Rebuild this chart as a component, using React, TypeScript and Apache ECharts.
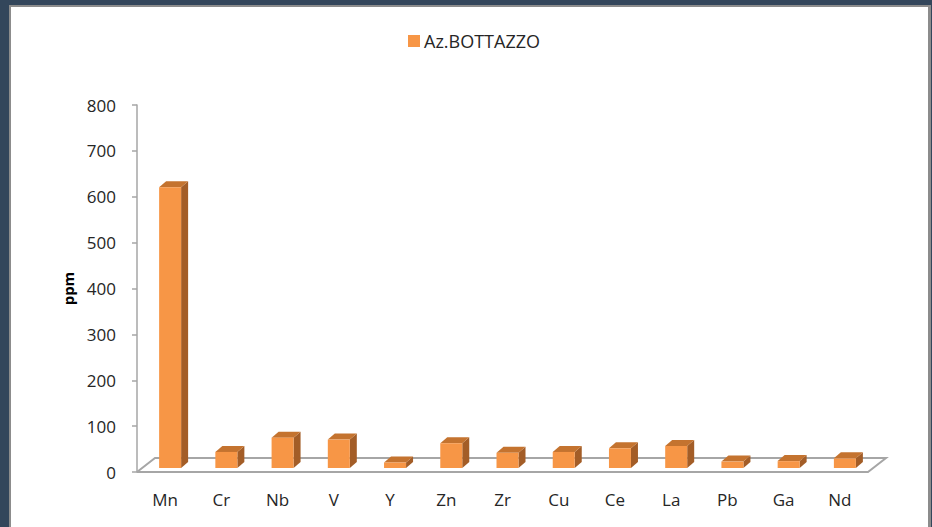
import React, { useEffect, useRef } from "react";
import * as echarts from "echarts";

const categories = ["Mn", "Cr", "Nb", "V", "Y", "Zn", "Zr", "Cu", "Ce", "La", "Pb", "Ga", "Nd"];
const values = [612, 35, 66, 62, 12, 54, 33, 35, 43, 48, 14, 15, 21];
const seriesName = "Az.BOTTAZZO";
const yMin = 0;
const yMax = 800;
const yInterval = 100;

const FRONT = "#F79646";
const TOP = "#C4732F";
const SIDE = "#A35D27";
const FLOOR = "#A6A6A6";

export default function App() {
  const ref = useRef<HTMLDivElement>(null);
  useEffect(() => {
    if (!ref.current) return;
    const chart = echarts.init(ref.current, null, { renderer: "svg" });
    const font = "'Open Sans', sans-serif";
    chart.setOption({
      animation: false,
      backgroundColor: "#33465B",
      textStyle: { fontFamily: font },
      graphic: [
        { type: "rect", z: -10, shape: { x: 9, y: 5, width: 922, height: 530 }, style: { fill: "#8C8C8C" } },
        { type: "rect", z: -9, shape: { x: 11, y: 7, width: 917, height: 530 }, style: { fill: "#FFFFFF" } },
      ],
      legend: {
        left: 403,
        top: 27,
        itemWidth: 12,
        itemHeight: 12,
        itemGap: 10,
        icon: "rect",
        textStyle: { fontSize: 18, color: "#262626", fontFamily: font, padding: [0, 0, 0, -1] },
        data: [seriesName],
      },
      grid: { left: 137, right: 64, top: 105, bottom: 55 },
      xAxis: {
        type: "category",
        data: categories,
        axisLine: { show: false },
        axisTick: { show: false },
        axisLabel: { fontSize: 17, color: "#262626", margin: 19, fontFamily: font },
      },
      yAxis: {
        type: "value",
        min: yMin,
        max: yMax,
        interval: yInterval,
        name: "ppm",
        nameLocation: "middle",
        nameGap: 57,
        nameTextStyle: { fontSize: 15, fontWeight: "bold", color: "#000000", fontFamily: font },
        axisLine: { show: true, lineStyle: { color: FLOOR, width: 1.5 } },
        axisTick: { show: true, length: 5, lineStyle: { color: FLOOR, width: 1.5 } },
        axisLabel: { fontSize: 17, color: "#262626", margin: 21, fontFamily: font },
        splitLine: { show: false },
      },
      series: [
        {
          type: "custom",
          name: "floor",
          silent: true,
          z: 1,
          data: [0],
          renderItem: (params: any, api: any) => {
            const cs = params.coordSys;
            const x0 = cs.x;
            const x1 = cs.x + cs.width;
            const y0 = cs.y + cs.height;
            const dx = 18;
            const dy = 14;
            return {
              type: "polyline",
              shape: {
                points: [
                  [x0, y0],
                  [x0 + dx, y0 - dy],
                  [x1 + dx, y0 - dy],
                  [x1, y0],
                  [x0, y0],
                ],
              },
              style: { stroke: FLOOR, lineWidth: 2, fill: null },
            };
          },
        },
        {
          type: "custom",
          name: seriesName,
          z: 2,
          itemStyle: { color: FRONT },
          data: values.map((v, i) => [i, v]),
          encode: { x: 0, y: 1 },
          renderItem: (params: any, api: any) => {
            const i = api.value(0);
            const v = api.value(1);
            const base = api.coord([i, 0]);
            const top = api.coord([i, v]);
            const w = 22;
            const cx = base[0] + 5;
            const xl = cx - w / 2;
            const xr = cx + w / 2;
            const yb = base[1] - 4;
            const yt = top[1] - 4;
            const dx = 7;
            const dy = 6;
            return {
              type: "group",
              children: [
                {
                  type: "polygon",
                  shape: { points: [[xr, yb], [xr + dx, yb - dy], [xr + dx, yt - dy], [xr, yt]] },
                  style: { fill: SIDE },
                },
                {
                  type: "polygon",
                  shape: { points: [[xl, yt], [xl + dx, yt - dy], [xr + dx, yt - dy], [xr, yt]] },
                  style: { fill: TOP },
                },
                {
                  type: "rect",
                  shape: { x: xl, y: yt, width: w, height: yb - yt },
                  style: { fill: FRONT },
                },
              ],
            };
          },
        },
      ],
    });
    return () => chart.dispose();
  }, []);
  return (
    <div
      ref={ref}
      style={{ position: "fixed", left: 0, top: 0, width: 932, height: 527 }}
    />
  );
}
